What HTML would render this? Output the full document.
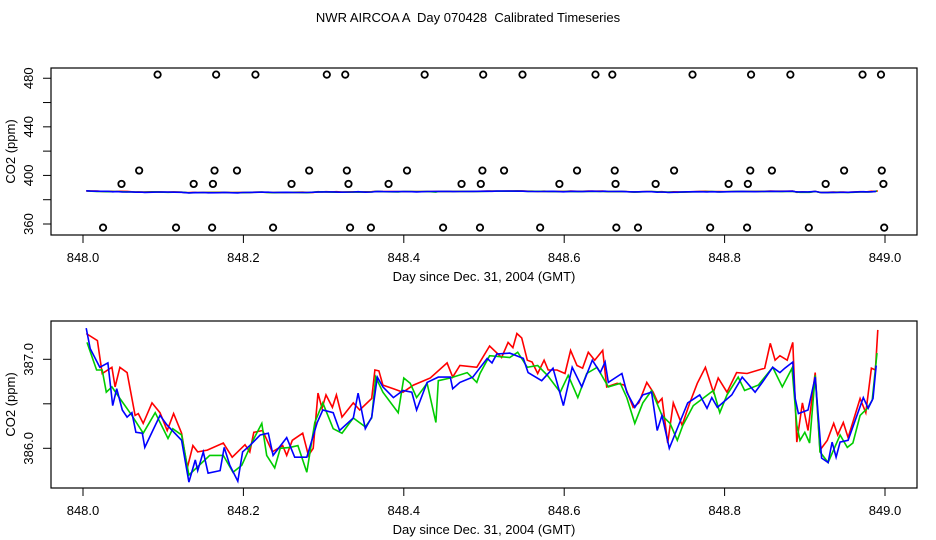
<!DOCTYPE html>
<html><head><meta charset="utf-8"><style>
body{margin:0;background:#fff}
svg{display:block;font-family:"Liberation Sans",sans-serif}
</style></head><body>
<svg id="c" width="936" height="540" viewBox="0 0 936 540">
<rect width="936" height="540" fill="#fff"/>
<text x="468" y="22" font-size="13" text-anchor="middle" xml:space="preserve" style="white-space:pre">NWR AIRCOA A  Day 070428  Calibrated Timeseries</text>
<g id="topPanel"></g>
<g id="botPanel"></g>
</svg>
<script>
const xTicks=[848.0,848.2,848.4,848.6,848.8,849.0];
const topYTicks=[360,380,400,420,440,460,480];
const topYLabels=[360,400,440,480];
const botYTicks=[386.0,386.5,387.0];
const botYLabels=[386.0,387.0];
const redDays=[0.004,0.018,0.024,0.036,0.040,0.046,0.055,0.065,0.069,0.075,0.086,0.096,0.105,0.113,0.123,0.130,0.137,0.143,0.155,0.175,0.186,0.202,0.208,0.213,0.224,0.236,0.249,0.254,0.261,0.274,0.281,0.287,0.293,0.298,0.303,0.311,0.316,0.323,0.337,0.345,0.360,0.364,0.369,0.374,0.387,0.399,0.412,0.433,0.454,0.461,0.470,0.491,0.507,0.522,0.530,0.536,0.541,0.547,0.554,0.560,0.567,0.575,0.580,0.591,0.601,0.608,0.616,0.623,0.630,0.638,0.648,0.653,0.666,0.675,0.686,0.693,0.703,0.711,0.717,0.722,0.729,0.736,0.747,0.757,0.766,0.776,0.786,0.792,0.803,0.815,0.828,0.850,0.857,0.863,0.869,0.878,0.885,0.890,0.897,0.904,0.913,0.919,0.928,0.936,0.941,0.948,0.954,0.969,0.976,0.983,0.988,0.991];
const redVals=[387.29,387.21,386.84,386.91,386.69,386.91,386.85,386.37,386.39,386.28,386.51,386.40,386.20,386.39,386.17,385.78,386.03,385.96,385.98,386.06,385.90,386.04,385.96,386.18,386.20,385.96,386.03,385.92,386.09,386.17,385.92,386.00,386.62,386.45,386.60,386.46,386.60,386.35,386.51,386.43,386.56,386.88,386.87,386.71,386.67,386.63,386.71,386.79,386.96,386.80,386.93,386.91,387.15,387.02,387.19,387.13,387.29,387.24,386.99,386.97,386.84,386.99,386.88,386.88,386.84,387.10,386.93,386.90,387.08,386.99,387.10,386.69,386.73,386.71,386.46,386.51,386.74,386.63,386.51,386.56,386.06,386.51,386.26,386.52,386.73,386.91,386.63,386.79,386.63,386.85,386.84,386.90,387.18,386.99,387.04,386.99,387.19,386.07,386.51,386.20,386.85,385.98,386.09,386.28,386.15,386.29,386.12,386.56,386.40,386.90,386.88,387.33];
const greenDays=[0.005,0.017,0.024,0.029,0.036,0.046,0.061,0.075,0.090,0.106,0.112,0.123,0.132,0.158,0.175,0.187,0.198,0.212,0.223,0.229,0.239,0.246,0.258,0.268,0.279,0.289,0.299,0.312,0.323,0.337,0.352,0.360,0.365,0.374,0.393,0.400,0.408,0.416,0.429,0.440,0.443,0.458,0.479,0.491,0.495,0.507,0.532,0.542,0.554,0.567,0.579,0.595,0.605,0.617,0.628,0.641,0.655,0.670,0.678,0.688,0.698,0.709,0.722,0.732,0.741,0.748,0.761,0.786,0.794,0.803,0.817,0.825,0.842,0.860,0.872,0.884,0.890,0.894,0.900,0.906,0.913,0.919,0.929,0.944,0.953,0.960,0.969,0.978,0.984,0.990];
const greenVals=[387.19,386.88,386.88,386.63,386.69,386.56,386.37,386.17,386.40,386.11,386.22,386.15,385.70,385.92,385.92,385.73,385.81,386.09,386.28,385.92,385.78,386.00,386.01,386.03,385.73,386.29,386.51,386.22,386.17,386.34,386.24,386.34,386.80,386.63,386.40,386.79,386.73,386.57,386.73,386.29,386.76,386.79,386.85,386.74,386.84,387.04,387.02,387.08,386.91,386.93,386.82,386.63,386.82,386.57,386.84,386.91,386.69,386.73,386.57,386.28,386.51,386.65,386.37,386.28,386.09,386.26,386.48,386.65,386.40,386.60,386.80,386.65,386.71,386.91,386.69,386.90,386.26,386.09,386.18,386.06,386.82,385.96,385.84,386.15,386.01,386.06,386.37,386.45,386.54,387.07];
const blueDays=[0.004,0.009,0.021,0.031,0.037,0.042,0.049,0.055,0.061,0.066,0.074,0.077,0.087,0.096,0.105,0.123,0.132,0.140,0.143,0.150,0.156,0.171,0.176,0.183,0.193,0.199,0.208,0.221,0.231,0.237,0.254,0.264,0.279,0.292,0.299,0.312,0.320,0.337,0.343,0.352,0.360,0.367,0.374,0.387,0.399,0.410,0.416,0.429,0.443,0.458,0.461,0.470,0.486,0.504,0.510,0.516,0.532,0.549,0.555,0.572,0.586,0.599,0.610,0.622,0.635,0.645,0.651,0.655,0.672,0.678,0.688,0.698,0.709,0.716,0.722,0.731,0.744,0.754,0.769,0.778,0.784,0.791,0.809,0.822,0.838,0.847,0.860,0.869,0.875,0.885,0.888,0.892,0.904,0.913,0.921,0.929,0.934,0.939,0.944,0.954,0.973,0.979,0.985,0.989];
const blueVals=[387.35,387.12,386.91,386.96,386.48,386.67,386.43,386.35,386.40,386.18,386.17,386.01,386.20,386.37,386.26,386.09,385.62,385.87,385.75,385.96,385.72,385.75,386.01,385.81,385.63,385.96,386.03,386.15,386.17,385.92,386.12,385.90,385.90,386.29,386.43,386.40,386.20,386.34,386.62,386.22,386.35,386.80,386.69,386.57,386.65,386.63,386.43,386.74,386.80,386.80,386.67,386.74,386.80,387.01,386.96,387.06,387.07,387.01,386.85,386.76,386.90,386.48,386.91,386.69,386.99,386.85,386.97,386.74,386.84,386.63,386.46,386.60,386.63,386.20,386.37,386.00,386.29,386.51,386.60,386.45,386.57,386.46,386.60,386.80,386.63,386.74,386.91,386.85,386.90,386.97,386.56,386.39,386.43,386.80,385.89,385.84,386.07,385.90,386.07,386.09,386.57,386.45,386.56,386.93];
const flagDays483=[0.093,0.166,0.215,0.304,0.327,0.426,0.499,0.548,0.639,0.660,0.760,0.833,0.882,0.972,0.995];
const flagDays404=[0.070,0.164,0.192,0.282,0.329,0.404,0.498,0.525,0.616,0.663,0.737,0.832,0.859,0.949,0.996];
const flagDays393=[0.048,0.138,0.162,0.260,0.331,0.381,0.472,0.496,0.594,0.664,0.714,0.805,0.829,0.926,0.998];
const flagDays357=[0.025,0.116,0.161,0.237,0.333,0.359,0.449,0.495,0.570,0.665,0.692,0.782,0.828,0.905,0.999];
const flagLevels=[483,404,393,357];

const NS="http://www.w3.org/2000/svg";
function mk(parent,tag,attrs,txt){const e=document.createElementNS(NS,tag);for(const k in attrs)e.setAttribute(k,attrs[k]);if(txt!==undefined)e.textContent=txt;parent.appendChild(e);return e;}
const xs=d=>83+(d-848)*802;
const xsd=d=>83+d*802;
const yTop=v=>224-(v-360)*1.2146;
const yBot=v=>448.3-(v-386)*89;

function panel(g,y0,y1,ys,yt,yl,lblFmt){
  const box=mk(g,'rect',{x:51,y:y0,width:866,height:y1-y0,fill:'none',stroke:'#000','stroke-width':1.2});
  
  
  xTicks.forEach(t=>{
    const l=mk(g,'line',{x1:xs(t),x2:xs(t),y1:y1,y2:y1+8,stroke:'#000'});
    
    
    const tx=mk(g,'text',{x:xs(t),y:y1+27,'font-size':13,'text-anchor':'middle'},t.toFixed(1));
    
    
  });
  yt.forEach(t=>{
    const l=mk(g,'line',{x1:43,x2:51,y1:ys(t),y2:ys(t),stroke:'#000'});
    
    
  });
  yl.forEach(t=>{
    const tx=mk(g,'text',{x:0,y:0,'font-size':13,'text-anchor':'middle',transform:`translate(33,${ys(t)}) rotate(-90)`},lblFmt(t));
    
    
  });
  const xt=mk(g,'text',{x:484,y:y1+46,'font-size':13,'text-anchor':'middle'},'Day since Dec. 31, 2004 (GMT)');
  
  
  const ytl=mk(g,'text',{x:0,y:0,'font-size':13,'text-anchor':'middle',transform:`translate(15,${(y0+y1)/2}) rotate(-90)`},'CO2 (ppm)');
  
  
}
function series(g,days,vals,ys,color,name,w){
  const pts=days.map((d,i)=>xsd(d).toFixed(1)+','+ys(vals[i]).toFixed(1)).join(' ');
  const p=mk(g,'polyline',{points:pts,fill:'none',stroke:color,'stroke-width':w,'stroke-linejoin':'miter'});
  
  
}
const topG=document.getElementById('topPanel'), botG=document.getElementById('botPanel');
panel(topG,68,235,yTop,topYTicks,topYLabels,t=>String(t));
series(topG,redDays,redVals,yTop,'#f00','series-red-top',1.6);
series(topG,greenDays,greenVals,yTop,'#0c0','series-green-top',1.6);
series(topG,blueDays,blueVals,yTop,'#00f','series-blue-top',1.6);
[flagDays483,flagDays404,flagDays393,flagDays357].forEach((arr,k)=>{
  arr.forEach(d=>{
    const c=mk(topG,'circle',{cx:xsd(d),cy:yTop(flagLevels[k]),r:3.2,fill:'none',stroke:'#000','stroke-width':1.8});
    
    
  });
});
panel(botG,321,488,yBot,botYTicks,botYLabels,t=>t.toFixed(1));
series(botG,redDays,redVals,yBot,'#f00','series-red',1.6);
series(botG,greenDays,greenVals,yBot,'#0c0','series-green',1.6);
series(botG,blueDays,blueVals,yBot,'#00f','series-blue',1.6);
</script>
</body></html>
